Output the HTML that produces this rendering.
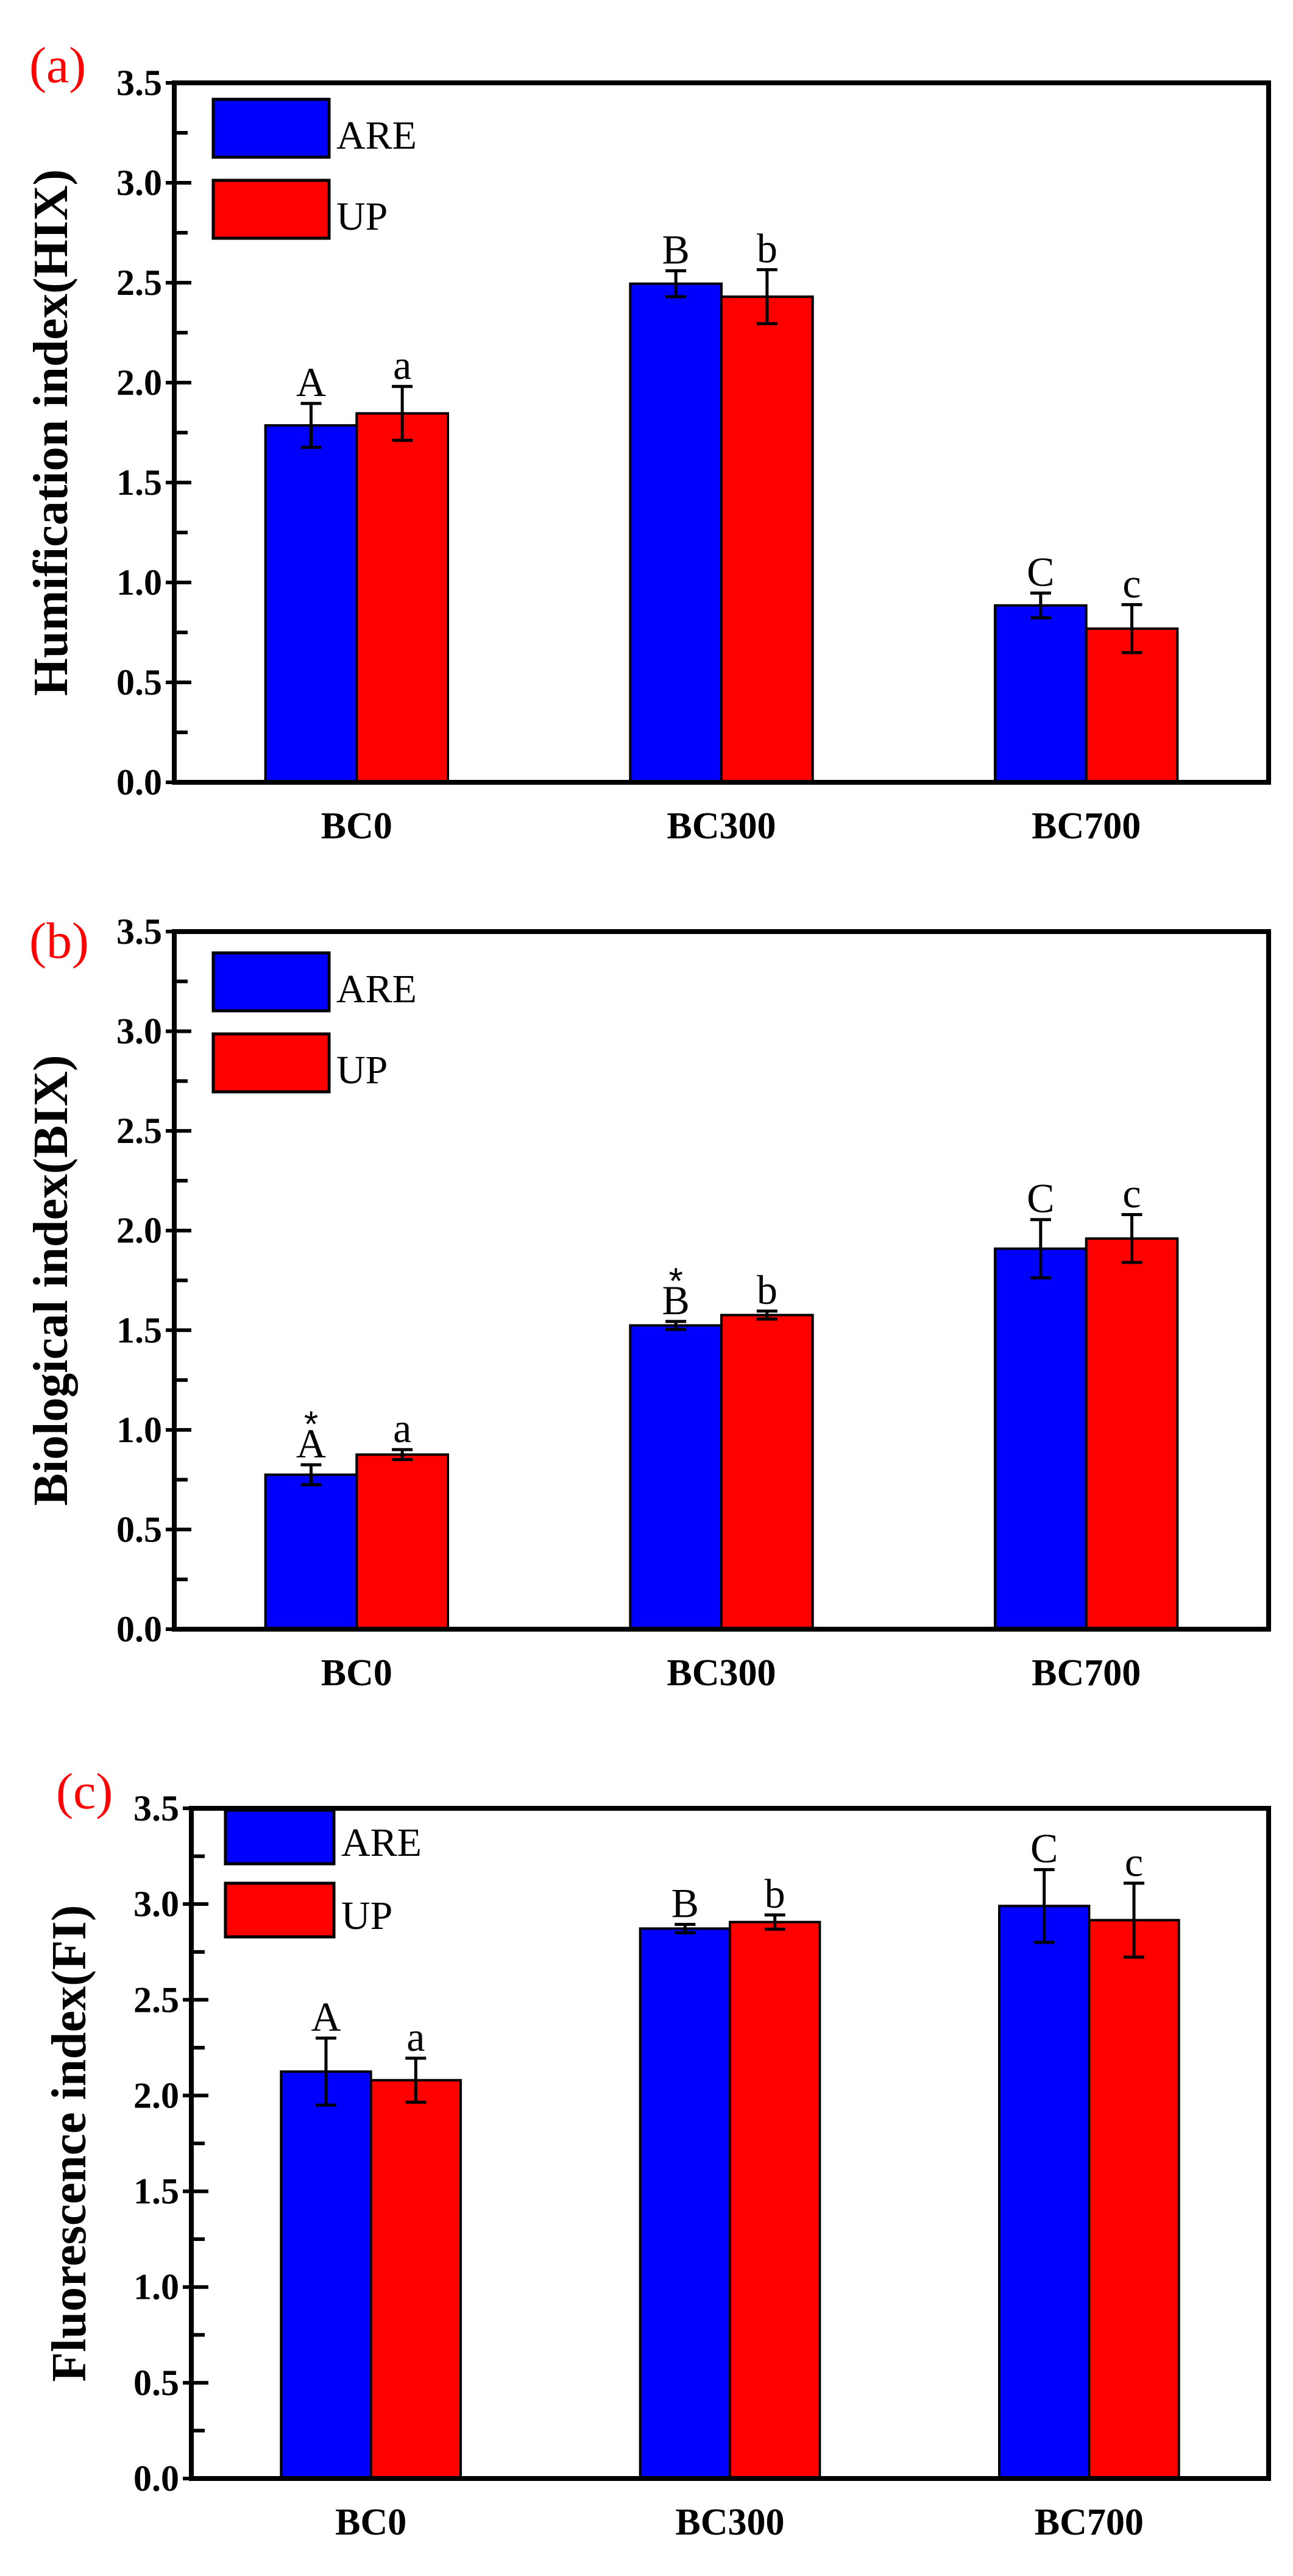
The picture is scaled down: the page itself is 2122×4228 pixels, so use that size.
<!DOCTYPE html>
<html><head><meta charset="utf-8"><style>
html,body{margin:0;padding:0;background:#fff}
svg{display:block}
</style></head><body>
<svg id="fig" width="2122" height="4228" xmlns="http://www.w3.org/2000/svg"></svg>
<script>
const categories = ["BC0","BC300","BC700"];
const seriesNames = ["ARE","UP"];
const yTicks = [0.0,0.5,1.0,1.5,2.0,2.5,3.0,3.5];
// panel a HIX
const hixARE = [1.786,2.495,0.885];
const hixAREerr = [0.11,0.065,0.062];
const hixUP = [1.846,2.43,0.769];
const hixUPerr = [0.135,0.135,0.12];
const hixLabelsARE = ["A","B","C"];
const hixLabelsUP = ["a","b","c"];
// panel b BIX
const bixARE = [0.775,1.524,1.909];
const bixAREerr = [0.05,0.02,0.146];
const bixUP = [0.876,1.576,1.96];
const bixUPerr = [0.025,0.02,0.12];
const bixLabelsARE = ["A","B","C"];
const bixLabelsUP = ["a","b","c"];
const bixStarARE = [true,true,false];
// panel c FI
const fiARE = [2.125,2.872,2.99];
const fiAREerr = [0.175,0.022,0.19];
const fiUP = [2.08,2.906,2.916];
const fiUPerr = [0.115,0.037,0.193];
const fiLabelsARE = ["A","B","C"];
const fiLabelsUP = ["a","b","c"];

const NS="http://www.w3.org/2000/svg";
const svg=document.getElementById('fig');
function mk(tag,attrs,parent,text){const e=document.createElementNS(NS,tag);for(const k in attrs)e.setAttribute(k,attrs[k]);if(text!==undefined)e.textContent=text;(parent||svg).appendChild(e);return e;}

function panel(cfg){
  const g=mk('g',{});
  
  
  const L=cfg.left,R=cfg.right,T=cfg.top,B=cfg.bottom,W=R-L;
  const y=v=>B-(v/3.5)*(B-T);
  const xc=i=>L+W*(2*i+1)/6;
  const bw=W/12;
  for(let i=0;i<categories.length;i++){
    const vals=[cfg.are[i],cfg.up[i]],errs=[cfg.areErr[i],cfg.upErr[i]],cols=['#0000ff','#ff0000'];
    for(let s=0;s<2;s++){
      const x0=xc(i)-bw+s*bw, top=y(vals[s]);
      const r=mk('rect',{x:x0,y:top,width:bw,height:B-top,fill:cols[s],stroke:'#000','stroke-width':4},g);
      
      
      const cx=x0+bw/2, hi=y(vals[s]+errs[s]), lo=y(vals[s]-errs[s]);
      const eg=mk('g',{stroke:'#000','stroke-width':5},g);
      
      
      mk('line',{x1:cx,x2:cx,y1:hi,y2:lo},eg);
      mk('line',{x1:cx-17,x2:cx+17,y1:hi,y2:hi},eg);
      mk('line',{x1:cx-17,x2:cx+17,y1:lo,y2:lo},eg);
      const lab=(s===0?cfg.labA:cfg.labU)[i];
      const t=mk('text',{x:cx,y:hi-12,'text-anchor':'middle','font-family':'Liberation Serif, serif','font-size':68},g,lab);
      
      
      if(s===0&&cfg.star&&cfg.star[i]){
        const st=mk('text',{x:cx,y:hi-46,'text-anchor':'middle','font-family':'Liberation Sans, sans-serif','font-size':60},g,'*');
        
        
      }
    }
    const xl=mk('text',{x:xc(i),y:B+92,'text-anchor':'middle','font-family':'Liberation Serif, serif','font-weight':'bold','font-size':62},g,categories[i]);
    
    
  }
  const fr=mk('rect',{x:L,y:T,width:W,height:B-T,fill:'none',stroke:'#000','stroke-width':8},g);
  
  
  for(let k=0;k<yTicks.length;k++){
    const yy=y(yTicks[k]);
    mk('line',{x1:L-14,x2:L+28,y1:yy,y2:yy,stroke:'#000','stroke-width':6},g);
    const tl=mk('text',{x:L-20,y:yy+20,'text-anchor':'end','font-family':'Liberation Serif, serif','font-weight':'bold','font-size':60},g,yTicks[k].toFixed(1));
    
    
    if(k<yTicks.length-1){const ym=y(yTicks[k]+0.25);mk('line',{x1:L,x2:L+22,y1:ym,y2:ym,stroke:'#000','stroke-width':6},g);}
  }
  const cy=(T+B)/2;
  const yt=mk('text',{x:cfg.titleX,y:cy,'text-anchor':'middle','font-family':'Liberation Serif, serif','font-weight':'bold','font-size':80,transform:'rotate(-90 '+cfg.titleX+' '+cy+')'},g,cfg.title);
  
  
  const pl=mk('text',{x:cfg.plX,y:cfg.plY,'font-family':'Liberation Serif, serif','font-size':84,fill:'#ff0000'},g,'('+cfg.id+')');
  
  
  const lg=mk('g',{},g);
  
  
  const cols=['#0000ff','#ff0000'];
  for(let s=0;s<2;s++){
    const ly=cfg.legY[s];
    const lr=mk('rect',{x:cfg.legX,y:ly,width:cfg.legW,height:cfg.legH,fill:cols[s],stroke:'#000','stroke-width':5},lg);
    
    
    const lt=mk('text',{x:cfg.legX+cfg.legW+12,y:ly+cfg.legH*0.85,'font-family':'Liberation Serif, serif','font-size':66},lg,seriesNames[s]);
    
    
  }
}

panel({id:'a',left:286,right:2082,top:136,bottom:1284,are:hixARE,areErr:hixAREerr,up:hixUP,upErr:hixUPerr,labA:hixLabelsARE,labU:hixLabelsUP,title:'Humification index(HIX)',titleX:110,plX:48,plY:135,legX:350,legW:190,legH:95,legY:[163,296]});
panel({id:'b',left:286,right:2082,top:1529,bottom:2674,are:bixARE,areErr:bixAREerr,up:bixUP,upErr:bixUPerr,labA:bixLabelsARE,labU:bixLabelsUP,star:bixStarARE,title:'Biological index(BIX)',titleX:110,plX:48,plY:1572,legX:350,legW:190,legH:95,legY:[1564,1697]});
panel({id:'c',left:314,right:2082,top:2968,bottom:4068,are:fiARE,areErr:fiAREerr,up:fiUP,upErr:fiUPerr,labA:fiLabelsARE,labU:fiLabelsUP,title:'Fluorescence index(FI)',titleX:140,plX:92,plY:2968,legX:370,legW:178,legH:88,legY:[2971,3091]});
</script>
</body></html>
